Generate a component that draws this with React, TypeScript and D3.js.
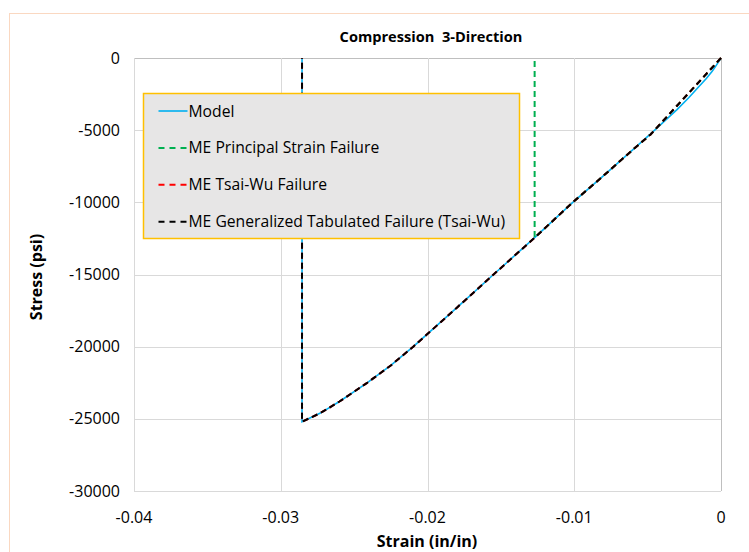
import React, { useEffect, useRef } from 'react';
import * as d3 from 'd3';

// strain (in/in) and stress (psi)
const modelStrain = [0, -0.0003, -0.0006, -0.001, -0.0015, -0.0022, -0.003, -0.0045, -0.006, -0.008, -0.0101, -0.0127, -0.0155, -0.018, -0.02097, -0.0225, -0.02414, -0.026, -0.0273, -0.02855, -0.02855];
const modelStress = [0, -480, -920, -1420, -1980, -2750, -3580, -4980, -6350, -8150, -10000, -12450, -15000, -17300, -20000, -21300, -22530, -23800, -24600, -25200, 0];

const principalStrain = [0, -0.0048, -0.006, -0.008, -0.0101, -0.0127, -0.0127];
const principalStress = [0, -5300, -6350, -8150, -10000, -12450, 0];

const tsaiWuStrain = [0, -0.0048, -0.006, -0.008, -0.0101, -0.0127, -0.0155, -0.018, -0.02097, -0.0225, -0.02414, -0.026, -0.0273, -0.02855, -0.02855];
const tsaiWuStress = [0, -5300, -6350, -8150, -10000, -12450, -15000, -17300, -20000, -21300, -22530, -23800, -24600, -25200, 0];

const xTicks = [-0.04, -0.03, -0.02, -0.01, 0];
const yTicks = [0, -5000, -10000, -15000, -20000, -25000, -30000];

const seriesNames = ["Model", "ME Principal Strain Failure", "ME Tsai-Wu Failure", "ME Generalized Tabulated Failure (Tsai-Wu)"];
const seriesColors = ["#00B0F0", "#00B050", "#FF0000", "#000000"];

const font = "'Open Sans', Lato, sans-serif";

const App = () => {
    const wrapper = useRef<HTMLDivElement>(null);
    const width = 749, height = 552;
    const margin = { top: 58, right: 28, bottom: 61, left: 134 };

    useEffect(() => {
        d3.select(wrapper.current).selectAll("svg").remove();

        const svg = d3.select(wrapper.current)
            .append("svg")
            .attr("width", width)
            .attr("height", height)
            .style("display", "block")
            .style("font-family", font);

        svg.append("rect").attr("width", width).attr("height", height).attr("fill", "#fff");

        // chart border (dotted)
        svg.append("rect")
            .attr("x", 9.5).attr("y", 13.5)
            .attr("width", 800).attr("height", 600)
            .attr("fill", "none")
            .attr("stroke", "#F4B183")
            .attr("stroke-dasharray", "1,1");

        const x = d3.scaleLinear().domain([-0.04, 0]).range([margin.left, width - margin.right]);
        const y = d3.scaleLinear().domain([-30000, 0]).range([height - margin.bottom, margin.top]);

        const grid = svg.append("g");
        grid.selectAll("line.h").data(yTicks).join("line")
            .attr("x1", margin.left).attr("x2", width - margin.right)
            .attr("y1", d => Math.round(y(d)) + 0.5).attr("y2", d => Math.round(y(d)) + 0.5)
            .attr("stroke", d => d === 0 ? "#BFBFBF" : "#D9D9D9");
        grid.selectAll("line.v").data(xTicks).join("line")
            .attr("y1", margin.top).attr("y2", height - margin.bottom)
            .attr("x1", d => Math.round(x(d)) + 0.5).attr("x2", d => Math.round(x(d)) + 0.5)
            .attr("stroke", d => d === 0 ? "#BFBFBF" : "#D9D9D9");

        svg.append("g").selectAll("text").data(yTicks).join("text")
            .attr("x", 120).attr("y", d => y(d))
            .attr("dy", "0.35em")
            .attr("text-anchor", "end")
            .style("font-size", "16px")
            .text(d => String(d));

        svg.append("g").selectAll("text").data(xTicks).join("text")
            .attr("x", d => x(d)).attr("y", 517)
            .attr("dy", "0.35em")
            .attr("text-anchor", "middle")
            .style("font-size", "16px")
            .text(d => d === 0 ? "0" : d.toFixed(2));

        svg.append("text")
            .attr("x", 431).attr("y", 37)
            .attr("dy", "0.35em")
            .attr("text-anchor", "middle")
            .style("font-size", "14.6px").style("font-weight", "bold")
            .style("white-space", "pre")
            .text("Compression  3-Direction");

        svg.append("text")
            .attr("x", 427).attr("y", 541)
            .attr("dy", "0.35em")
            .attr("text-anchor", "middle")
            .style("font-size", "16px").style("font-weight", "bold")
            .text("Strain (in/in)");

        svg.append("text")
            .attr("transform", "translate(36,277) rotate(-90)")
            .attr("dy", "0.35em")
            .attr("text-anchor", "middle")
            .style("font-size", "16px").style("font-weight", "bold")
            .text("Stress (psi)");

        const line = d3.line<[number, number]>()
            .x(d => x(d[0]))
            .y(d => y(d[1]));

        const series = [
            d3.zip(modelStrain, modelStress),
            d3.zip(principalStrain, principalStress),
            d3.zip(tsaiWuStrain, tsaiWuStress),
            d3.zip(tsaiWuStrain, tsaiWuStress)
        ] as [number, number][][];

        svg.append("g").selectAll("path").data(series).join("path")
            .attr("d", d => line(d))
            .attr("fill", "none")
            .attr("stroke", (d, i) => seriesColors[i])
            .attr("stroke-width", (d, i) => i === 0 ? 1.6 : 2)
            .attr("stroke-dasharray", (d, i) => i === 0 ? null : "6,4");

        // legend
        const legend = svg.append("g").attr("transform", "translate(143.5,93.5)");
        legend.append("rect")
            .attr("width", 376).attr("height", 145)
            .attr("fill", "#E7E6E6")
            .attr("stroke", "#FFC000")
            .attr("stroke-width", 1.5);

        const items = legend.selectAll("g").data(seriesNames).join("g")
            .attr("transform", (d, i) => `translate(0,${17.5 + i * 36.9})`);
        items.append("line")
            .attr("x1", 15).attr("x2", 44)
            .attr("stroke", (d, i) => seriesColors[i])
            .attr("stroke-width", (d, i) => i === 0 ? 1.6 : 2)
            .attr("stroke-dasharray", (d, i) => i === 0 ? null : "6,5");
        items.append("text")
            .attr("x", 45).attr("dy", "0.35em")
            .style("font-size", "15.7px")
            .text(d => d);
    }, []);

    return (
        <div ref={wrapper} style={{ position: "absolute", left: 0, top: 0 }}></div>
    );
};

export { App as default };
